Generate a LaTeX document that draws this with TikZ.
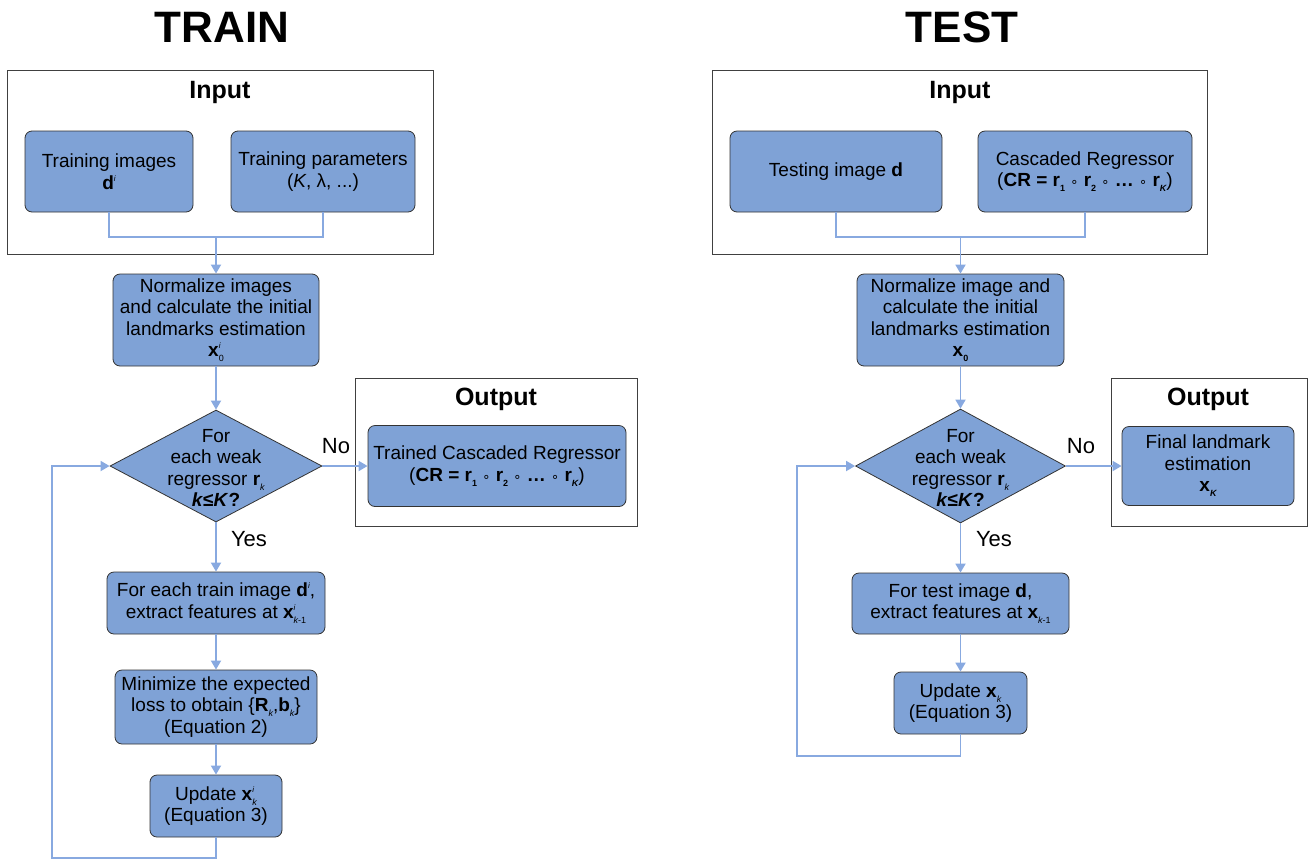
\documentclass[tikz,border=0pt]{standalone}
\usepackage{fontspec}
\setmainfont{Liberation Sans}
\newfontfamily\dvs{DejaVu Sans}
\usetikzlibrary{shapes.geometric,arrows.meta}
\definecolor{boxblue}{HTML}{7FA2D6}
\definecolor{linkblue}{HTML}{88A9E0}
\newcommand{\supsb}[2]{\makebox[0pt][l]{\raisebox{0.8ex}{\fontsize{8}{8}\selectfont #1}}\raisebox{-0.5ex}{\fontsize{9}{9}\selectfont #2}}
\newcommand{\subx}[1]{\raisebox{-0.5ex}{\fontsize{9}{9}\selectfont #1}}
\newcommand{\supx}[1]{\raisebox{0.8ex}{\fontsize{8}{8}\selectfont #1}}
\newcommand{\rop}{{\dvs\fontsize{13}{13}\selectfont ∘}}
\tikzset{
  bx/.style={draw=black!80, line width=0.8pt, fill=boxblue, rounded corners=7pt, align=center, inner sep=0pt, font=\fontsize{19}{21.5}\selectfont},
  frame/.style={draw=black!75, line width=0.8pt, inner sep=0pt},
  dia/.style={diamond, draw=black!80, line width=0.8pt, fill=boxblue, inner sep=0pt},
  conn/.style={draw=linkblue, line width=1.8pt},
  arr/.style={conn, -{Triangle[length=9pt,width=10pt]}},
  ttl/.style={font=\fontsize{44}{44}\selectfont\bfseries},
  hdr/.style={font=\fontsize{25}{25}\selectfont\bfseries},
  lbl/.style={font=\fontsize{22}{22}\selectfont},
  txt/.style={align=center, font=\fontsize{19}{21.5}\selectfont}
}
\begin{document}
\begin{tikzpicture}[x=1pt,y=-1pt]
\useasboundingbox (0,0) rectangle (1310,863);
% ---------- TRAIN ----------
\node[ttl] (tt1) at (222,27) {TRAIN};
\node[frame, minimum width=426pt, minimum height=184pt] (in1) at (220,162) {};
\node[hdr] (ih1) at (220,92) {Input};
\node[bx, minimum width=168pt, minimum height=81pt] (ti1) at (109,171.5) {Training images\\\textbf{d}\supx{\itshape i}};
\node[bx, minimum width=184pt, minimum height=81pt] (ti2) at (323,171.5) {Training parameters\\(\textit{K}, λ, ...)};
\coordinate (j1) at (216,237);
\node[bx, minimum width=206pt, minimum height=92pt] (n1) at (216,320) {Normalize images\\and calculate the initial\\landmarks estimation\\\textbf{x}\supsb{\itshape i}{0}};
\node[dia, minimum width=212pt, minimum height=112pt] (d1) at (216,466) {};
\node[txt] (d1t) at (216,468) {For\\each weak\\regressor \textbf{r}\subx{\itshape k}\\\textbf{\textit{k}≤\textit{K}?}};
\node[frame, minimum width=282pt, minimum height=148pt] (ou1) at (496,452) {};
\node[hdr] (oh1) at (496,399) {Output};
\node[bx, minimum width=258pt, minimum height=81pt] (o1) at (497,466) {Trained Cascaded Regressor\\(\textbf{CR = r}\subx{\bfseries 1} \rop{} \textbf{r}\subx{\bfseries 2} \rop{} \textbf{…} \rop{} \textbf{r}\subx{\bfseries\itshape K})};
\node[bx, minimum width=218pt, minimum height=62pt] (f1) at (216,603) {For each train image \textbf{d}\supx{\itshape i},\\extract features at \textbf{x}\supsb{\itshape i}{\itshape k\upshape -1}};
\node[bx, minimum width=202pt, minimum height=74pt] (m1) at (216,707) {Minimize the expected\\loss to obtain \{\textbf{R}\subx{\itshape k},\textbf{b}\subx{\itshape k}\}\\(Equation 2)};
\node[bx, minimum width=132pt, minimum height=62pt] (u1) at (216,806) {Update \textbf{x}\supsb{\itshape i}{\itshape k}\\(Equation 3)};
\coordinate (l1) at (52,858);
\node[lbl] (no1) at (336,446) {No};
\node[lbl] (ye1) at (249,539) {Yes};
\draw[conn] (ti1.south) |- (j1) -| (ti2.south);
\draw[arr] (j1) -- (n1.north);
\draw[arr] (n1.south) -- (d1.north);
\draw[arr] (d1.east) -- (o1.west);
\draw[arr] (d1.south) -- (f1.north);
\draw[arr] (f1.south) -- (m1.north);
\draw[arr] (m1.south) -- (u1.north);
\draw[arr] (u1.south) |- (l1) |- (d1.west);
% ---------- TEST ----------
\node[ttl] (tt2) at (962,27) {TEST};
\node[frame, minimum width=495pt, minimum height=184pt] (in2) at (959.5,162) {};
\node[hdr] (ih2) at (960,92) {Input};
\node[bx, minimum width=212pt, minimum height=81pt] (tb1) at (836,171.5) {Testing image \textbf{d}};
\node[bx, minimum width=214pt, minimum height=81pt] (tb2) at (1085,171.5) {Cascaded Regressor\\(\textbf{CR = r}\subx{\bfseries 1} \rop{} \textbf{r}\subx{\bfseries 2} \rop{} \textbf{…} \rop{} \textbf{r}\subx{\bfseries\itshape K})};
\coordinate (j2) at (960.5,237);
\node[bx, minimum width=207pt, minimum height=92pt] (n2) at (960.5,320) {Normalize image and\\calculate the initial\\landmarks estimation\\\textbf{x}\subx{\bfseries 0}};
\node[dia, minimum width=210pt, minimum height=114pt] (d2) at (960.5,466) {};
\node[txt] (d2t) at (960.5,468) {For\\each weak\\regressor \textbf{r}\subx{\itshape k}\\\textbf{\textit{k}≤\textit{K}?}};
\node[frame, minimum width=196pt, minimum height=148pt] (ou2) at (1209,452) {};
\node[hdr] (oh2) at (1208,399) {Output};
\node[bx, minimum width=172pt, minimum height=79pt] (o2) at (1208,466) {Final landmark\\estimation\\\textbf{x}\subx{\bfseries\itshape K}};
\node[bx, minimum width=217pt, minimum height=61pt] (f2) at (960.5,603.5) {For test image \textbf{d},\\extract features at \textbf{x}\subx{\itshape k\upshape -1}};
\node[bx, minimum width=133pt, minimum height=62pt] (u2) at (960.5,703) {Update \textbf{x}\subx{\itshape k}\\(Equation 3)};
\coordinate (l2) at (797,756);
\node[lbl] (no2) at (1081,446) {No};
\node[lbl] (ye2) at (994,539) {Yes};
\draw[conn] (tb1.south) |- (j2) -| (tb2.south);
\draw[arr] (j2) -- (n2.north);
\draw[arr] (n2.south) -- (d2.north);
\draw[arr] (d2.east) -- (o2.west);
\draw[arr] (d2.south) -- (f2.north);
\draw[arr] (f2.south) -- (u2.north);
\draw[arr] (u2.south) |- (l2) |- (d2.west);
\end{tikzpicture}
\end{document}
